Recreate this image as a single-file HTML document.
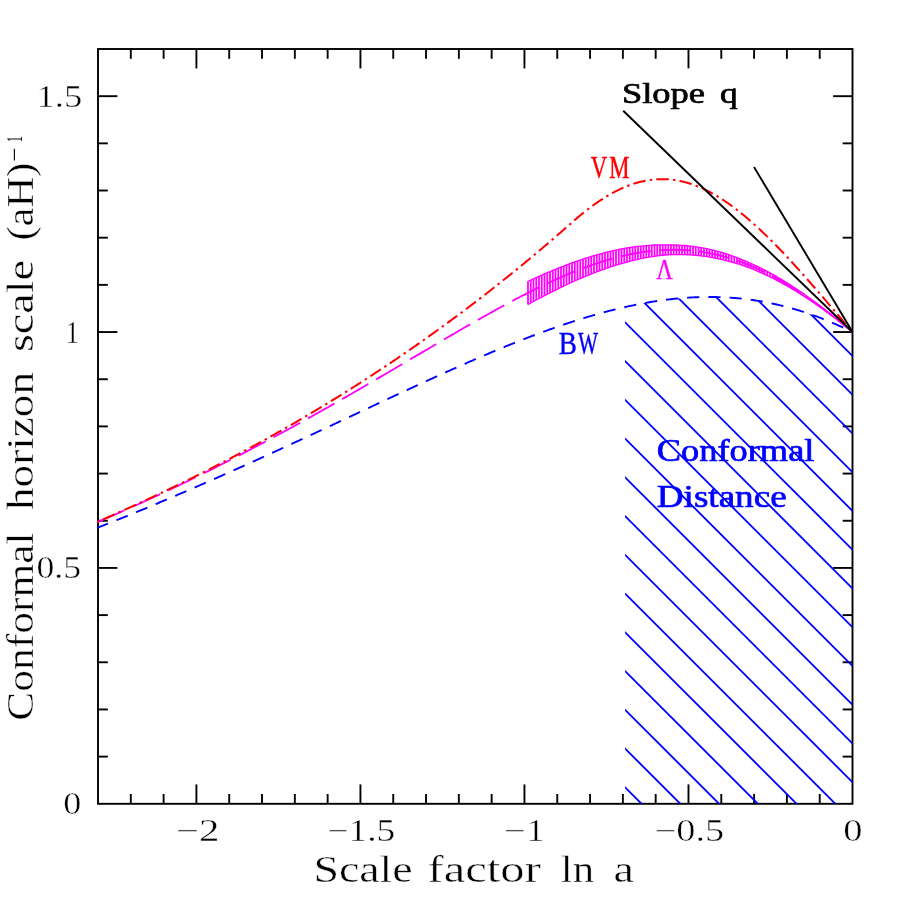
<!DOCTYPE html>
<html><head><meta charset="utf-8"><title>Conformal horizon scale</title>
<style>html,body{margin:0;padding:0;background:#fff;}svg{display:block;will-change:transform;}</style></head>
<body>
<svg width="900" height="900" viewBox="0 0 900 900">
<rect width="900" height="900" fill="#fff"/>
<defs><clipPath id="cp"><rect x="98.0" y="49.0" width="754.5" height="754.8"/></clipPath>
<clipPath id="hc"><polygon points="625.12,307.05 626.26,306.79 627.40,306.54 628.55,306.29 629.69,306.04 630.83,305.80 631.97,305.55 633.12,305.32 634.26,305.08 635.40,304.85 636.54,304.62 637.69,304.39 638.83,304.16 639.97,303.94 641.11,303.73 642.26,303.51 643.40,303.30 644.54,303.09 645.68,302.89 646.83,302.68 647.97,302.48 649.11,302.29 650.26,302.10 651.40,301.91 652.54,301.72 653.68,301.54 654.83,301.36 655.97,301.18 657.11,301.01 658.25,300.84 659.40,300.67 660.54,300.51 661.68,300.35 662.82,300.20 663.97,300.05 665.11,299.90 666.25,299.75 667.39,299.61 668.54,299.47 669.68,299.34 670.82,299.20 671.97,299.08 673.11,298.95 674.25,298.83 675.39,298.72 676.54,298.60 677.68,298.49 678.82,298.39 679.96,298.28 681.11,298.19 682.25,298.09 683.39,298.00 684.53,297.91 685.68,297.83 686.82,297.75 687.96,297.67 689.10,297.60 690.25,297.53 691.39,297.47 692.53,297.41 693.68,297.35 694.82,297.30 695.96,297.25 697.10,297.20 698.25,297.16 699.39,297.12 700.53,297.09 701.67,297.06 702.82,297.04 703.96,297.02 705.10,297.00 706.24,296.99 707.39,296.98 708.53,296.97 709.67,296.97 710.81,296.97 711.96,296.98 713.10,296.99 714.24,297.01 715.38,297.03 716.53,297.05 717.67,297.08 718.81,297.11 719.96,297.15 721.10,297.19 722.24,297.23 723.38,297.28 724.53,297.34 725.67,297.40 726.81,297.46 727.95,297.52 729.10,297.59 730.24,297.67 731.38,297.75 732.52,297.83 733.67,297.92 734.81,298.01 735.95,298.11 737.09,298.21 738.24,298.32 739.38,298.43 740.52,298.54 741.67,298.66 742.81,298.78 743.95,298.91 745.09,299.04 746.24,299.18 747.38,299.32 748.52,299.47 749.66,299.62 750.81,299.77 751.95,299.93 753.09,300.10 754.23,300.26 755.38,300.44 756.52,300.61 757.66,300.80 758.80,300.98 759.95,301.17 761.09,301.37 762.23,301.57 763.38,301.78 764.52,301.98 765.66,302.20 766.80,302.42 767.95,302.64 769.09,302.87 770.23,303.10 771.37,303.34 772.52,303.58 773.66,303.83 774.80,304.08 775.94,304.33 777.09,304.60 778.23,304.86 779.37,305.13 780.51,305.41 781.66,305.68 782.80,305.97 783.94,306.26 785.09,306.55 786.23,306.85 787.37,307.15 788.51,307.46 789.66,307.77 790.80,308.09 791.94,308.41 793.08,308.73 794.23,309.06 795.37,309.40 796.51,309.74 797.65,310.09 798.80,310.43 799.94,310.79 801.08,311.15 802.22,311.51 803.37,311.88 804.51,312.25 805.65,312.63 806.79,313.01 807.94,313.40 809.08,313.79 810.22,314.19 811.37,314.59 812.51,314.99 813.65,315.40 814.79,315.82 815.94,316.24 817.08,316.66 818.22,317.09 819.36,317.52 820.51,317.96 821.65,318.40 822.79,318.85 823.93,319.30 825.08,319.76 826.22,320.22 827.36,320.68 828.50,321.15 829.65,321.63 830.79,322.11 831.93,322.59 833.08,323.08 834.22,323.57 835.36,324.07 836.50,324.57 837.65,325.07 838.79,325.58 839.93,326.10 841.07,326.62 842.22,327.14 843.36,327.67 844.50,328.20 845.64,328.74 846.79,329.28 847.93,329.82 849.07,330.37 850.21,330.93 851.36,331.49 852.50,332.05 852.5,803.8 625.12,803.8"/></clipPath></defs>
<g stroke="#000" stroke-width="1.9" fill="none">
<rect x="98.0" y="49.0" width="754.5" height="754.8"/>
<line x1="130.80" y1="803.8" x2="130.80" y2="794.0"/>
<line x1="130.80" y1="49.0" x2="130.80" y2="58.8"/>
<line x1="163.61" y1="803.8" x2="163.61" y2="794.0"/>
<line x1="163.61" y1="49.0" x2="163.61" y2="58.8"/>
<line x1="196.41" y1="803.8" x2="196.41" y2="784.4"/>
<line x1="196.41" y1="49.0" x2="196.41" y2="68.4"/>
<line x1="229.22" y1="803.8" x2="229.22" y2="794.0"/>
<line x1="229.22" y1="49.0" x2="229.22" y2="58.8"/>
<line x1="262.02" y1="803.8" x2="262.02" y2="794.0"/>
<line x1="262.02" y1="49.0" x2="262.02" y2="58.8"/>
<line x1="294.83" y1="803.8" x2="294.83" y2="794.0"/>
<line x1="294.83" y1="49.0" x2="294.83" y2="58.8"/>
<line x1="327.63" y1="803.8" x2="327.63" y2="794.0"/>
<line x1="327.63" y1="49.0" x2="327.63" y2="58.8"/>
<line x1="360.43" y1="803.8" x2="360.43" y2="784.4"/>
<line x1="360.43" y1="49.0" x2="360.43" y2="68.4"/>
<line x1="393.24" y1="803.8" x2="393.24" y2="794.0"/>
<line x1="393.24" y1="49.0" x2="393.24" y2="58.8"/>
<line x1="426.04" y1="803.8" x2="426.04" y2="794.0"/>
<line x1="426.04" y1="49.0" x2="426.04" y2="58.8"/>
<line x1="458.85" y1="803.8" x2="458.85" y2="794.0"/>
<line x1="458.85" y1="49.0" x2="458.85" y2="58.8"/>
<line x1="491.65" y1="803.8" x2="491.65" y2="794.0"/>
<line x1="491.65" y1="49.0" x2="491.65" y2="58.8"/>
<line x1="524.46" y1="803.8" x2="524.46" y2="784.4"/>
<line x1="524.46" y1="49.0" x2="524.46" y2="68.4"/>
<line x1="557.26" y1="803.8" x2="557.26" y2="794.0"/>
<line x1="557.26" y1="49.0" x2="557.26" y2="58.8"/>
<line x1="590.07" y1="803.8" x2="590.07" y2="794.0"/>
<line x1="590.07" y1="49.0" x2="590.07" y2="58.8"/>
<line x1="622.87" y1="803.8" x2="622.87" y2="794.0"/>
<line x1="622.87" y1="49.0" x2="622.87" y2="58.8"/>
<line x1="655.67" y1="803.8" x2="655.67" y2="794.0"/>
<line x1="655.67" y1="49.0" x2="655.67" y2="58.8"/>
<line x1="688.48" y1="803.8" x2="688.48" y2="784.4"/>
<line x1="688.48" y1="49.0" x2="688.48" y2="68.4"/>
<line x1="721.28" y1="803.8" x2="721.28" y2="794.0"/>
<line x1="721.28" y1="49.0" x2="721.28" y2="58.8"/>
<line x1="754.09" y1="803.8" x2="754.09" y2="794.0"/>
<line x1="754.09" y1="49.0" x2="754.09" y2="58.8"/>
<line x1="786.89" y1="803.8" x2="786.89" y2="794.0"/>
<line x1="786.89" y1="49.0" x2="786.89" y2="58.8"/>
<line x1="819.70" y1="803.8" x2="819.70" y2="794.0"/>
<line x1="819.70" y1="49.0" x2="819.70" y2="58.8"/>
<line x1="98.0" y1="756.62" x2="107.8" y2="756.62"/>
<line x1="852.5" y1="756.62" x2="842.7" y2="756.62"/>
<line x1="98.0" y1="709.45" x2="107.8" y2="709.45"/>
<line x1="852.5" y1="709.45" x2="842.7" y2="709.45"/>
<line x1="98.0" y1="662.27" x2="107.8" y2="662.27"/>
<line x1="852.5" y1="662.27" x2="842.7" y2="662.27"/>
<line x1="98.0" y1="615.10" x2="107.8" y2="615.10"/>
<line x1="852.5" y1="615.10" x2="842.7" y2="615.10"/>
<line x1="98.0" y1="567.92" x2="117.4" y2="567.92"/>
<line x1="852.5" y1="567.92" x2="833.1" y2="567.92"/>
<line x1="98.0" y1="520.75" x2="107.8" y2="520.75"/>
<line x1="852.5" y1="520.75" x2="842.7" y2="520.75"/>
<line x1="98.0" y1="473.57" x2="107.8" y2="473.57"/>
<line x1="852.5" y1="473.57" x2="842.7" y2="473.57"/>
<line x1="98.0" y1="426.40" x2="107.8" y2="426.40"/>
<line x1="852.5" y1="426.40" x2="842.7" y2="426.40"/>
<line x1="98.0" y1="379.23" x2="107.8" y2="379.23"/>
<line x1="852.5" y1="379.23" x2="842.7" y2="379.23"/>
<line x1="98.0" y1="332.05" x2="117.4" y2="332.05"/>
<line x1="852.5" y1="332.05" x2="833.1" y2="332.05"/>
<line x1="98.0" y1="284.88" x2="107.8" y2="284.88"/>
<line x1="852.5" y1="284.88" x2="842.7" y2="284.88"/>
<line x1="98.0" y1="237.70" x2="107.8" y2="237.70"/>
<line x1="852.5" y1="237.70" x2="842.7" y2="237.70"/>
<line x1="98.0" y1="190.52" x2="107.8" y2="190.52"/>
<line x1="852.5" y1="190.52" x2="842.7" y2="190.52"/>
<line x1="98.0" y1="143.35" x2="107.8" y2="143.35"/>
<line x1="852.5" y1="143.35" x2="842.7" y2="143.35"/>
<line x1="98.0" y1="96.18" x2="117.4" y2="96.18"/>
<line x1="852.5" y1="96.18" x2="833.1" y2="96.18"/>
</g>
<g clip-path="url(#hc)" stroke="#0000ff" stroke-width="1.8" fill="none">
<line x1="620.12" y1="7.32" x2="857.50" y2="244.70"/>
<line x1="620.12" y1="46.07" x2="857.50" y2="283.45"/>
<line x1="620.12" y1="84.82" x2="857.50" y2="322.20"/>
<line x1="620.12" y1="123.57" x2="857.50" y2="360.95"/>
<line x1="620.12" y1="162.32" x2="857.50" y2="399.70"/>
<line x1="620.12" y1="201.07" x2="857.50" y2="438.45"/>
<line x1="620.12" y1="239.82" x2="857.50" y2="477.20"/>
<line x1="620.12" y1="278.57" x2="857.50" y2="515.95"/>
<line x1="620.12" y1="317.32" x2="857.50" y2="554.70"/>
<line x1="620.12" y1="356.07" x2="857.50" y2="593.45"/>
<line x1="620.12" y1="394.82" x2="857.50" y2="632.20"/>
<line x1="620.12" y1="433.57" x2="857.50" y2="670.95"/>
<line x1="620.12" y1="472.32" x2="857.50" y2="709.70"/>
<line x1="620.12" y1="511.07" x2="857.50" y2="748.45"/>
<line x1="620.12" y1="549.82" x2="857.50" y2="787.20"/>
<line x1="620.12" y1="588.57" x2="857.50" y2="825.95"/>
<line x1="620.12" y1="627.32" x2="857.50" y2="864.70"/>
<line x1="620.12" y1="666.07" x2="857.50" y2="903.45"/>
<line x1="620.12" y1="704.82" x2="857.50" y2="942.20"/>
<line x1="620.12" y1="743.57" x2="857.50" y2="980.95"/>
<line x1="620.12" y1="782.32" x2="857.50" y2="1019.70"/>
<line x1="620.12" y1="821.07" x2="857.50" y2="1058.45"/>
<line x1="620.12" y1="859.82" x2="857.50" y2="1097.20"/>
<line x1="620.12" y1="898.57" x2="857.50" y2="1135.95"/>
</g>
<path d="M97.15,527.88 L98.41,527.38 L99.67,526.88 L100.94,526.38 L102.20,525.89 L103.46,525.39 L104.72,524.89 L105.98,524.39 L107.24,523.88 L108.50,523.38 L109.76,522.88 L111.02,522.38 L112.28,521.87 L113.55,521.37 L114.81,520.86 L116.07,520.36 L117.33,519.85 L118.59,519.34 L119.85,518.83 L121.11,518.32 L122.37,517.82 L123.63,517.31 L124.89,516.79 L126.16,516.28 L127.42,515.77 L128.68,515.26 L129.94,514.74 L131.20,514.23 L132.46,513.71 L133.72,513.20 L134.98,512.68 L136.24,512.17 L137.50,511.65 L138.77,511.13 L140.03,510.61 L141.29,510.09 L142.55,509.57 L143.81,509.05 L145.07,508.53 L146.33,508.01 L147.59,507.48 L148.85,506.96 L150.11,506.44 L151.38,505.91 L152.64,505.39 L153.90,504.86 L155.16,504.33 L156.42,503.80 L157.68,503.28 L158.94,502.75 L160.20,502.22 L161.46,501.69 L162.72,501.16 L163.99,500.63 L165.25,500.09 L166.51,499.56 L167.77,499.03 L169.03,498.49 L170.29,497.96 L171.55,497.42 L172.81,496.89 L174.07,496.35 L175.33,495.82 L176.60,495.28 L177.86,494.74 L179.12,494.20 L180.38,493.66 L181.64,493.12 L182.90,492.58 L184.16,492.04 L185.42,491.50 L186.68,490.95 L187.95,490.41 L189.21,489.87 L190.47,489.32 L191.73,488.78 L192.99,488.23 L194.25,487.69 L195.51,487.14 L196.77,486.59 L198.03,486.04 L199.29,485.50 L200.56,484.95 L201.82,484.40 L203.08,483.85 L204.34,483.30 L205.60,482.74 L206.86,482.19 L208.12,481.64 L209.38,481.09 L210.64,480.53 L211.90,479.98 L213.17,479.42 L214.43,478.87 L215.69,478.31 L216.95,477.76 L218.21,477.20 L219.47,476.64 L220.73,476.08 L221.99,475.52 L223.25,474.96 L224.51,474.41 L225.78,473.84 L227.04,473.28 L228.30,472.72 L229.56,472.16 L230.82,471.60 L232.08,471.04 L233.34,470.47 L234.60,469.91 L235.86,469.34 L237.12,468.78 L238.39,468.21 L239.65,467.65 L240.91,467.08 L242.17,466.51 L243.43,465.95 L244.69,465.38 L245.95,464.81 L247.21,464.24 L248.47,463.67 L249.73,463.10 L251.00,462.53 L252.26,461.96 L253.52,461.39 L254.78,460.82 L256.04,460.25 L257.30,459.67 L258.56,459.10 L259.82,458.53 L261.08,457.95 L262.34,457.38 L263.61,456.81 L264.87,456.23 L266.13,455.66 L267.39,455.08 L268.65,454.50 L269.91,453.93 L271.17,453.35 L272.43,452.77 L273.69,452.19 L274.96,451.62 L276.22,451.04 L277.48,450.46 L278.74,449.88 L280.00,449.30 L281.26,448.72 L282.52,448.14 L283.78,447.56 L285.04,446.98 L286.30,446.39 L287.57,445.81 L288.83,445.23 L290.09,444.65 L291.35,444.06 L292.61,443.48 L293.87,442.90 L295.13,442.31 L296.39,441.73 L297.65,441.14 L298.91,440.56 L300.18,439.97 L301.44,439.39 L302.70,438.80 L303.96,438.22 L305.22,437.63 L306.48,437.04 L307.74,436.46 L309.00,435.87 L310.26,435.28 L311.52,434.70 L312.79,434.11 L314.05,433.52 L315.31,432.93 L316.57,432.34 L317.83,431.76 L319.09,431.17 L320.35,430.58 L321.61,429.99 L322.87,429.40 L324.13,428.81 L325.40,428.22 L326.66,427.63 L327.92,427.04 L329.18,426.45 L330.44,425.86 L331.70,425.27 L332.96,424.68 L334.22,424.09 L335.48,423.50 L336.74,422.91 L338.01,422.31 L339.27,421.72 L340.53,421.13 L341.79,420.54 L343.05,419.95 L344.31,419.36 L345.57,418.77 L346.83,418.17 L348.09,417.58 L349.35,416.99 L350.62,416.40 L351.88,415.81 L353.14,415.21 L354.40,414.62 L355.66,414.03 L356.92,413.44 L358.18,412.85 L359.44,412.26 L360.70,411.66 L361.97,411.07 L363.23,410.48 L364.49,409.89 L365.75,409.30 L367.01,408.71 L368.27,408.11 L369.53,407.52 L370.79,406.93 L372.05,406.34 L373.31,405.75 L374.58,405.16 L375.84,404.57 L377.10,403.98 L378.36,403.39 L379.62,402.80 L380.88,402.21 L382.14,401.62 L383.40,401.03 L384.66,400.44 L385.92,399.85 L387.19,399.26 L388.45,398.67 L389.71,398.08 L390.97,397.49 L392.23,396.90 L393.49,396.31 L394.75,395.73 L396.01,395.14 L397.27,394.55 L398.53,393.97 L399.80,393.38 L401.06,392.79 L402.32,392.21 L403.58,391.62 L404.84,391.04 L406.10,390.45 L407.36,389.87 L408.62,389.28 L409.88,388.70 L411.14,388.12 L412.41,387.53 L413.67,386.95 L414.93,386.37 L416.19,385.79 L417.45,385.21 L418.71,384.62 L419.97,384.04 L421.23,383.46 L422.49,382.89 L423.75,382.31 L425.02,381.73 L426.28,381.15 L427.54,380.57 L428.80,380.00 L430.06,379.42 L431.32,378.85 L432.58,378.27 L433.84,377.70 L435.10,377.12 L436.37,376.55 L437.63,375.98 L438.89,375.41 L440.15,374.84 L441.41,374.27 L442.67,373.70 L443.93,373.13 L445.19,372.56 L446.45,371.99 L447.71,371.43 L448.98,370.86 L450.24,370.30 L451.50,369.73 L452.76,369.17 L454.02,368.61 L455.28,368.05 L456.54,367.48 L457.80,366.92 L459.06,366.37 L460.32,365.81 L461.59,365.25 L462.85,364.69 L464.11,364.14 L465.37,363.58 L466.63,363.03 L467.89,362.48 L469.15,361.93 L470.41,361.38 L471.67,360.83 L472.93,360.28 L474.20,359.73 L475.46,359.18 L476.72,358.64 L477.98,358.09 L479.24,357.55 L480.50,357.01 L481.76,356.47 L483.02,355.93 L484.28,355.39 L485.54,354.85 L486.81,354.32 L488.07,353.78 L489.33,353.25 L490.59,352.72 L491.85,352.19 L493.11,351.66 L494.37,351.13 L495.63,350.60 L496.89,350.08 L498.15,349.55 L499.42,349.03 L500.68,348.51 L501.94,347.99 L503.20,347.47 L504.46,346.95 L505.72,346.43 L506.98,345.92 L508.24,345.41 L509.50,344.90 L510.76,344.39 L512.03,343.88 L513.29,343.37 L514.55,342.87 L515.81,342.36 L517.07,341.86 L518.33,341.36 L519.59,340.86 L520.85,340.36 L522.11,339.87 L523.38,339.38 L524.64,338.88 L525.90,338.39 L527.16,337.91 L528.42,337.42 L529.68,336.93 L530.94,336.45 L532.20,335.97 L533.46,335.49 L534.72,335.01 L535.99,334.54 L537.25,334.07 L538.51,333.59 L539.77,333.12 L541.03,332.66 L542.29,332.19 L543.55,331.73 L544.81,331.27 L546.07,330.81 L547.33,330.35 L548.60,329.89 L549.86,329.44 L551.12,328.99 L552.38,328.54 L553.64,328.10 L554.90,327.65 L556.16,327.21 L557.42,326.77 L558.68,326.33 L559.94,325.90 L561.21,325.46 L562.47,325.03 L563.73,324.60 L564.99,324.18 L566.25,323.75 L567.51,323.33 L568.77,322.91 L570.03,322.50 L571.29,322.08 L572.55,321.67 L573.82,321.26 L575.08,320.86 L576.34,320.45 L577.60,320.05 L578.86,319.66 L580.12,319.26 L581.38,318.87 L582.64,318.48 L583.90,318.09 L585.16,317.70 L586.43,317.32 L587.69,316.94 L588.95,316.57 L590.21,316.19 L591.47,315.82 L592.73,315.45 L593.99,315.09 L595.25,314.72 L596.51,314.37 L597.77,314.01 L599.04,313.66 L600.30,313.30 L601.56,312.96 L602.82,312.61 L604.08,312.27 L605.34,311.93 L606.60,311.60 L607.86,311.27 L609.12,310.94 L610.39,310.61 L611.65,310.29 L612.91,309.97 L614.17,309.65 L615.43,309.34 L616.69,309.03 L617.95,308.73 L619.21,308.42 L620.47,308.12 L621.73,307.83 L623.00,307.54 L624.26,307.25 L625.52,306.96 L626.78,306.68 L628.04,306.40 L629.30,306.13 L630.56,305.85 L631.82,305.59 L633.08,305.32 L634.34,305.06 L635.61,304.80 L636.87,304.55 L638.13,304.30 L639.39,304.06 L640.65,303.81 L641.91,303.58 L643.17,303.34 L644.43,303.11 L645.69,302.88 L646.95,302.66 L648.22,302.44 L649.48,302.23 L650.74,302.02 L652.00,301.81 L653.26,301.61 L654.52,301.41 L655.78,301.21 L657.04,301.02 L658.30,300.83 L659.56,300.65 L660.83,300.47 L662.09,300.30 L663.35,300.13 L664.61,299.96 L665.87,299.80 L667.13,299.64 L668.39,299.49 L669.65,299.34 L670.91,299.19 L672.17,299.05 L673.44,298.92 L674.70,298.79 L675.96,298.66 L677.22,298.54 L678.48,298.42 L679.74,298.30 L681.00,298.19 L682.26,298.09 L683.52,297.99 L684.78,297.89 L686.05,297.80 L687.31,297.72 L688.57,297.63 L689.83,297.56 L691.09,297.48 L692.35,297.42 L693.61,297.35 L694.87,297.29 L696.13,297.24 L697.40,297.19 L698.66,297.15 L699.92,297.11 L701.18,297.07 L702.44,297.05 L703.70,297.02 L704.96,297.00 L706.22,296.99 L707.48,296.98 L708.74,296.97 L710.01,296.97 L711.27,296.98 L712.53,296.99 L713.79,297.00 L715.05,297.02 L716.31,297.05 L717.57,297.08 L718.83,297.11 L720.09,297.15 L721.35,297.20 L722.62,297.25 L723.88,297.31 L725.14,297.37 L726.40,297.43 L727.66,297.51 L728.92,297.58 L730.18,297.67 L731.44,297.75 L732.70,297.85 L733.96,297.94 L735.23,298.05 L736.49,298.16 L737.75,298.27 L739.01,298.39 L740.27,298.52 L741.53,298.65 L742.79,298.78 L744.05,298.92 L745.31,299.07 L746.57,299.22 L747.84,299.38 L749.10,299.54 L750.36,299.71 L751.62,299.89 L752.88,300.06 L754.14,300.25 L755.40,300.44 L756.66,300.64 L757.92,300.84 L759.18,301.05 L760.45,301.26 L761.71,301.48 L762.97,301.70 L764.23,301.93 L765.49,302.17 L766.75,302.41 L768.01,302.65 L769.27,302.91 L770.53,303.16 L771.80,303.43 L773.06,303.70 L774.32,303.97 L775.58,304.25 L776.84,304.54 L778.10,304.83 L779.36,305.13 L780.62,305.43 L781.88,305.74 L783.14,306.05 L784.41,306.38 L785.67,306.70 L786.93,307.03 L788.19,307.37 L789.45,307.71 L790.71,308.06 L791.97,308.42 L793.23,308.78 L794.49,309.14 L795.75,309.51 L797.02,309.89 L798.28,310.27 L799.54,310.66 L800.80,311.06 L802.06,311.46 L803.32,311.86 L804.58,312.28 L805.84,312.69 L807.10,313.12 L808.36,313.54 L809.63,313.98 L810.89,314.42 L812.15,314.86 L813.41,315.32 L814.67,315.77 L815.93,316.23 L817.19,316.70 L818.45,317.18 L819.71,317.66 L820.97,318.14 L822.24,318.63 L823.50,319.13 L824.76,319.63 L826.02,320.14 L827.28,320.65 L828.54,321.17 L829.80,321.69 L831.06,322.22 L832.32,322.76 L833.58,323.30 L834.85,323.84 L836.11,324.39 L837.37,324.95 L838.63,325.51 L839.89,326.08 L841.15,326.65 L842.41,327.23 L843.67,327.82 L844.93,328.40 L846.19,329.00 L847.46,329.60 L848.72,330.20 L849.98,330.81 L851.24,331.43 L852.50,332.05" fill="none" stroke="#0000ff" stroke-width="1.9" stroke-dasharray="12.2 9.01" stroke-dashoffset="0.5"/>
<g stroke="#ff00ff" fill="none">
<line x1="528.00" y1="281.27" x2="528.00" y2="304.47" stroke-width="1.8"/>
<line x1="530.75" y1="280.01" x2="530.75" y2="302.96" stroke-width="1.8"/>
<line x1="533.50" y1="278.76" x2="533.50" y2="301.47" stroke-width="1.8"/>
<line x1="536.25" y1="277.52" x2="536.25" y2="299.99" stroke-width="1.8"/>
<line x1="539.00" y1="276.30" x2="539.00" y2="298.52" stroke-width="1.8"/>
<line x1="541.75" y1="275.10" x2="541.75" y2="297.07" stroke-width="1.8"/>
<line x1="544.50" y1="273.90" x2="544.50" y2="295.64" stroke-width="1.8"/>
<line x1="547.25" y1="272.73" x2="547.25" y2="294.22" stroke-width="1.8"/>
<line x1="550.00" y1="271.57" x2="550.00" y2="292.81" stroke-width="1.8"/>
<line x1="552.75" y1="270.43" x2="552.75" y2="291.43" stroke-width="1.8"/>
<line x1="555.50" y1="269.30" x2="555.50" y2="290.06" stroke-width="1.8"/>
<line x1="558.25" y1="268.19" x2="558.25" y2="288.70" stroke-width="1.8"/>
<line x1="561.00" y1="267.10" x2="561.00" y2="287.37" stroke-width="1.8"/>
<line x1="563.75" y1="266.03" x2="563.75" y2="286.05" stroke-width="1.8"/>
<line x1="566.50" y1="264.98" x2="566.50" y2="284.76" stroke-width="1.8"/>
<line x1="569.25" y1="263.95" x2="569.25" y2="283.48" stroke-width="1.8"/>
<line x1="572.00" y1="262.94" x2="572.00" y2="282.23" stroke-width="1.8"/>
<line x1="574.75" y1="261.95" x2="574.75" y2="280.99" stroke-width="1.8"/>
<line x1="577.50" y1="260.98" x2="577.50" y2="279.78" stroke-width="1.8"/>
<line x1="580.25" y1="260.03" x2="580.25" y2="278.58" stroke-width="1.8"/>
<line x1="583.00" y1="259.10" x2="583.00" y2="277.41" stroke-width="1.8"/>
<line x1="585.75" y1="258.20" x2="585.75" y2="276.27" stroke-width="1.8"/>
<line x1="588.50" y1="257.32" x2="588.50" y2="275.14" stroke-width="1.8"/>
<line x1="591.25" y1="256.47" x2="591.25" y2="274.04" stroke-width="1.8"/>
<line x1="594.00" y1="255.64" x2="594.00" y2="272.97" stroke-width="1.8"/>
<line x1="596.75" y1="254.83" x2="596.75" y2="271.92" stroke-width="1.8"/>
<line x1="599.50" y1="254.05" x2="599.50" y2="270.89" stroke-width="1.8"/>
<line x1="602.25" y1="253.31" x2="602.25" y2="269.88" stroke-width="1.8"/>
<line x1="605.00" y1="252.60" x2="605.00" y2="268.89" stroke-width="1.8"/>
<line x1="607.75" y1="251.92" x2="607.75" y2="267.93" stroke-width="1.8"/>
<line x1="610.50" y1="251.26" x2="610.50" y2="267.00" stroke-width="1.8"/>
<line x1="613.25" y1="250.64" x2="613.25" y2="266.09" stroke-width="1.8"/>
<line x1="616.00" y1="250.04" x2="616.00" y2="265.22" stroke-width="1.8"/>
<line x1="618.75" y1="249.47" x2="618.75" y2="264.37" stroke-width="1.8"/>
<line x1="621.50" y1="248.94" x2="621.50" y2="263.55" stroke-width="1.8"/>
<line x1="624.25" y1="248.43" x2="624.25" y2="262.77" stroke-width="1.8"/>
<line x1="627.00" y1="247.95" x2="627.00" y2="262.01" stroke-width="1.8"/>
<line x1="629.75" y1="247.51" x2="629.75" y2="261.29" stroke-width="1.8"/>
<line x1="632.50" y1="247.10" x2="632.50" y2="260.60" stroke-width="1.8"/>
<line x1="635.25" y1="246.72" x2="635.25" y2="259.94" stroke-width="1.8"/>
<line x1="638.00" y1="246.37" x2="638.00" y2="259.31" stroke-width="1.8"/>
<line x1="640.75" y1="246.06" x2="640.75" y2="258.72" stroke-width="1.8"/>
<line x1="643.50" y1="245.78" x2="643.50" y2="258.16" stroke-width="1.8"/>
<line x1="646.25" y1="245.54" x2="646.25" y2="257.64" stroke-width="1.8"/>
<line x1="649.00" y1="245.33" x2="649.00" y2="257.15" stroke-width="1.8"/>
<line x1="651.75" y1="245.15" x2="651.75" y2="256.70" stroke-width="1.8"/>
<line x1="654.50" y1="245.01" x2="654.50" y2="256.28" stroke-width="1.8"/>
<line x1="657.25" y1="244.91" x2="657.25" y2="255.90" stroke-width="1.8"/>
<line x1="660.00" y1="244.85" x2="660.00" y2="255.56" stroke-width="1.8"/>
<line x1="662.75" y1="244.82" x2="662.75" y2="255.25" stroke-width="1.8"/>
<line x1="665.50" y1="244.82" x2="665.50" y2="254.99" stroke-width="1.8"/>
<line x1="668.25" y1="244.80" x2="668.25" y2="254.83" stroke-width="1.8"/>
<line x1="671.00" y1="244.82" x2="671.00" y2="254.70" stroke-width="1.8"/>
<line x1="673.75" y1="244.88" x2="673.75" y2="254.61" stroke-width="1.8"/>
<line x1="676.50" y1="244.98" x2="676.50" y2="254.56" stroke-width="1.8"/>
<line x1="679.25" y1="245.11" x2="679.25" y2="254.55" stroke-width="1.8"/>
<line x1="682.00" y1="245.29" x2="682.00" y2="254.58" stroke-width="1.8"/>
<line x1="684.75" y1="245.50" x2="684.75" y2="254.65" stroke-width="1.8"/>
<line x1="687.50" y1="245.76" x2="687.50" y2="254.76" stroke-width="1.8"/>
<line x1="690.25" y1="246.06" x2="690.25" y2="254.91" stroke-width="1.8"/>
<line x1="693.00" y1="246.39" x2="693.00" y2="255.10" stroke-width="1.8"/>
<line x1="695.75" y1="246.77" x2="695.75" y2="255.33" stroke-width="1.8"/>
<line x1="698.50" y1="247.19" x2="698.50" y2="255.61" stroke-width="1.8"/>
<line x1="701.25" y1="247.65" x2="701.25" y2="255.92" stroke-width="1.8"/>
<line x1="704.00" y1="248.15" x2="704.00" y2="256.27" stroke-width="1.8"/>
<line x1="706.75" y1="248.70" x2="706.75" y2="256.67" stroke-width="1.8"/>
<line x1="709.50" y1="249.28" x2="709.50" y2="257.11" stroke-width="1.8"/>
<line x1="712.25" y1="249.91" x2="712.25" y2="257.59" stroke-width="1.8"/>
<line x1="715.00" y1="250.57" x2="715.00" y2="258.11" stroke-width="1.8"/>
<line x1="717.75" y1="251.28" x2="717.75" y2="258.67" stroke-width="1.8"/>
<line x1="720.50" y1="252.04" x2="720.50" y2="259.28" stroke-width="1.8"/>
<line x1="723.25" y1="252.83" x2="723.25" y2="259.92" stroke-width="1.8"/>
<line x1="726.00" y1="253.68" x2="726.00" y2="260.59" stroke-width="1.8"/>
<line x1="728.75" y1="254.60" x2="728.75" y2="261.28" stroke-width="1.8"/>
<line x1="731.50" y1="255.57" x2="731.50" y2="262.00" stroke-width="1.8"/>
<line x1="734.25" y1="256.57" x2="734.25" y2="262.77" stroke-width="1.8"/>
<line x1="737.00" y1="257.62" x2="737.00" y2="263.58" stroke-width="1.8"/>
<line x1="739.75" y1="258.70" x2="739.75" y2="264.43" stroke-width="1.8"/>
<line x1="742.50" y1="259.79" x2="742.50" y2="265.36" stroke-width="1.8"/>
<line x1="745.25" y1="260.91" x2="745.25" y2="266.33" stroke-width="1.8"/>
<line x1="748.00" y1="262.08" x2="748.00" y2="267.35" stroke-width="1.8"/>
<line x1="750.75" y1="263.28" x2="750.75" y2="268.41" stroke-width="1.8"/>
<line x1="753.50" y1="264.53" x2="753.50" y2="269.51" stroke-width="1.8"/>
<line x1="756.25" y1="265.81" x2="756.25" y2="270.64" stroke-width="1.8"/>
<line x1="759.00" y1="267.13" x2="759.00" y2="271.82" stroke-width="1.8"/>
<line x1="761.75" y1="268.50" x2="761.75" y2="273.04" stroke-width="1.8"/>
<line x1="764.50" y1="269.90" x2="764.50" y2="274.29" stroke-width="1.8"/>
<line x1="767.25" y1="271.34" x2="767.25" y2="275.58" stroke-width="1.8"/>
<line x1="770.00" y1="272.82" x2="770.00" y2="276.92" stroke-width="1.8"/>
<line x1="772.75" y1="274.34" x2="772.75" y2="278.28" stroke-width="1.8"/>
<line x1="775.50" y1="275.89" x2="775.50" y2="279.68" stroke-width="1.8"/>
<line x1="778.25" y1="277.49" x2="778.25" y2="281.12" stroke-width="1.8"/>
<line x1="781.00" y1="279.12" x2="781.00" y2="282.59" stroke-width="1.8"/>
<line x1="783.75" y1="280.78" x2="783.75" y2="284.10" stroke-width="1.8"/>
<line x1="786.50" y1="282.49" x2="786.50" y2="285.65" stroke-width="1.8"/>
<line x1="789.25" y1="284.22" x2="789.25" y2="287.23" stroke-width="1.8"/>
<line x1="792.00" y1="285.99" x2="792.00" y2="288.84" stroke-width="1.8"/>
<line x1="794.75" y1="287.80" x2="794.75" y2="290.49" stroke-width="1.8"/>
<line x1="797.50" y1="289.63" x2="797.50" y2="292.17" stroke-width="1.8"/>
<line x1="800.25" y1="291.50" x2="800.25" y2="293.89" stroke-width="1.8"/>
<line x1="803.00" y1="293.39" x2="803.00" y2="295.64" stroke-width="1.8"/>
<line x1="805.75" y1="295.32" x2="805.75" y2="297.43" stroke-width="1.8"/>
<line x1="808.50" y1="297.27" x2="808.50" y2="299.25" stroke-width="1.8"/>
<line x1="811.25" y1="299.26" x2="811.25" y2="301.09" stroke-width="1.8"/>
<line x1="814.00" y1="301.27" x2="814.00" y2="302.97" stroke-width="1.8"/>
<line x1="816.75" y1="303.31" x2="816.75" y2="304.87" stroke-width="1.8"/>
<line x1="819.50" y1="305.38" x2="819.50" y2="306.81" stroke-width="1.8"/>
<line x1="822.25" y1="307.46" x2="822.25" y2="308.78" stroke-width="1.8"/>
<line x1="825.00" y1="309.57" x2="825.00" y2="310.79" stroke-width="1.8"/>
<line x1="827.75" y1="311.70" x2="827.75" y2="312.82" stroke-width="1.8"/>
<line x1="830.50" y1="313.86" x2="830.50" y2="314.87" stroke-width="1.8"/>
<line x1="833.25" y1="316.04" x2="833.25" y2="316.95" stroke-width="1.8"/>
<line x1="836.00" y1="318.25" x2="836.00" y2="319.06" stroke-width="1.8"/>
<line x1="838.75" y1="320.48" x2="838.75" y2="321.19" stroke-width="1.8"/>
<line x1="841.50" y1="322.73" x2="841.50" y2="323.34" stroke-width="1.8"/>
<line x1="844.25" y1="325.00" x2="844.25" y2="325.51" stroke-width="1.8"/>
<line x1="847.00" y1="327.30" x2="847.00" y2="327.70" stroke-width="1.8"/>
<line x1="849.75" y1="329.62" x2="849.75" y2="329.92" stroke-width="1.8"/>
<polyline points="528.00,281.27 530.75,280.01 533.50,278.76 536.25,277.52 539.00,276.30 541.75,275.10 544.50,273.90 547.25,272.73 550.00,271.57 552.75,270.43 555.50,269.30 558.25,268.19 561.00,267.10 563.75,266.03 566.50,264.98 569.25,263.95 572.00,262.94 574.75,261.95 577.50,260.98 580.25,260.03 583.00,259.10 585.75,258.20 588.50,257.32 591.25,256.47 594.00,255.64 596.75,254.83 599.50,254.05 602.25,253.31 605.00,252.60 607.75,251.92 610.50,251.26 613.25,250.64 616.00,250.04 618.75,249.47 621.50,248.94 624.25,248.43 627.00,247.95 629.75,247.51 632.50,247.10 635.25,246.72 638.00,246.37 640.75,246.06 643.50,245.78 646.25,245.54 649.00,245.33 651.75,245.15 654.50,245.01 657.25,244.91 660.00,244.85 662.75,244.82 665.50,244.82 668.25,244.80 671.00,244.82 673.75,244.88 676.50,244.98 679.25,245.11 682.00,245.29 684.75,245.50 687.50,245.76 690.25,246.06 693.00,246.39 695.75,246.77 698.50,247.19 701.25,247.65 704.00,248.15 706.75,248.70 709.50,249.28 712.25,249.91 715.00,250.57 717.75,251.28 720.50,252.04 723.25,252.83 726.00,253.68 728.75,254.60 731.50,255.57 734.25,256.57 737.00,257.62 739.75,258.70 742.50,259.79 745.25,260.91 748.00,262.08 750.75,263.28 753.50,264.53 756.25,265.81 759.00,267.13 761.75,268.50 764.50,269.90 767.25,271.34 770.00,272.82 772.75,274.34 775.50,275.89 778.25,277.49 781.00,279.12 783.75,280.78 786.50,282.49 789.25,284.22 792.00,285.99 794.75,287.80 797.50,289.63 800.25,291.50 803.00,293.39 805.75,295.32 808.50,297.27 811.25,299.26 814.00,301.27 816.75,303.31 819.50,305.38 822.25,307.46 825.00,309.57 827.75,311.70 830.50,313.86 833.25,316.04 836.00,318.25 838.75,320.48 841.50,322.73 844.25,325.00 847.00,327.30 849.75,329.62" stroke-width="1.3"/>
<polyline points="528.00,304.47 530.75,302.96 533.50,301.47 536.25,299.99 539.00,298.52 541.75,297.07 544.50,295.64 547.25,294.22 550.00,292.81 552.75,291.43 555.50,290.06 558.25,288.70 561.00,287.37 563.75,286.05 566.50,284.76 569.25,283.48 572.00,282.23 574.75,280.99 577.50,279.78 580.25,278.58 583.00,277.41 585.75,276.27 588.50,275.14 591.25,274.04 594.00,272.97 596.75,271.92 599.50,270.89 602.25,269.88 605.00,268.89 607.75,267.93 610.50,267.00 613.25,266.09 616.00,265.22 618.75,264.37 621.50,263.55 624.25,262.77 627.00,262.01 629.75,261.29 632.50,260.60 635.25,259.94 638.00,259.31 640.75,258.72 643.50,258.16 646.25,257.64 649.00,257.15 651.75,256.70 654.50,256.28 657.25,255.90 660.00,255.56 662.75,255.25 665.50,254.99 668.25,254.83 671.00,254.70 673.75,254.61 676.50,254.56 679.25,254.55 682.00,254.58 684.75,254.65 687.50,254.76 690.25,254.91 693.00,255.10 695.75,255.33 698.50,255.61 701.25,255.92 704.00,256.27 706.75,256.67 709.50,257.11 712.25,257.59 715.00,258.11 717.75,258.67 720.50,259.28 723.25,259.92 726.00,260.59 728.75,261.28 731.50,262.00 734.25,262.77 737.00,263.58 739.75,264.43 742.50,265.36 745.25,266.33 748.00,267.35 750.75,268.41 753.50,269.51 756.25,270.64 759.00,271.82 761.75,273.04 764.50,274.29 767.25,275.58 770.00,276.92 772.75,278.28 775.50,279.68 778.25,281.12 781.00,282.59 783.75,284.10 786.50,285.65 789.25,287.23 792.00,288.84 794.75,290.49 797.50,292.17 800.25,293.89 803.00,295.64 805.75,297.43 808.50,299.25 811.25,301.09 814.00,302.97 816.75,304.87 819.50,306.81 822.25,308.78 825.00,310.79 827.75,312.82 830.50,314.87 833.25,316.95 836.00,319.06 838.75,321.19 841.50,323.34 844.25,325.51 847.00,327.70 849.75,329.92" stroke-width="1.3"/>
</g>
<path d="M97.15,522.24 L98.41,521.70 L99.67,521.16 L100.94,520.62 L102.20,520.08 L103.46,519.54 L104.72,519.00 L105.98,518.45 L107.24,517.91 L108.50,517.36 L109.76,516.82 L111.02,516.27 L112.28,515.72 L113.55,515.17 L114.81,514.62 L116.07,514.07 L117.33,513.52 L118.59,512.97 L119.85,512.41 L121.11,511.86 L122.37,511.30 L123.63,510.74 L124.89,510.18 L126.16,509.63 L127.42,509.07 L128.68,508.50 L129.94,507.94 L131.20,507.38 L132.46,506.81 L133.72,506.25 L134.98,505.68 L136.24,505.12 L137.50,504.55 L138.77,503.98 L140.03,503.41 L141.29,502.84 L142.55,502.26 L143.81,501.69 L145.07,501.12 L146.33,500.54 L147.59,499.96 L148.85,499.39 L150.11,498.81 L151.38,498.23 L152.64,497.65 L153.90,497.07 L155.16,496.49 L156.42,495.90 L157.68,495.32 L158.94,494.73 L160.20,494.15 L161.46,493.56 L162.72,492.97 L163.99,492.38 L165.25,491.79 L166.51,491.20 L167.77,490.60 L169.03,490.01 L170.29,489.42 L171.55,488.82 L172.81,488.22 L174.07,487.63 L175.33,487.03 L176.60,486.43 L177.86,485.83 L179.12,485.23 L180.38,484.62 L181.64,484.02 L182.90,483.41 L184.16,482.81 L185.42,482.20 L186.68,481.59 L187.95,480.98 L189.21,480.37 L190.47,479.76 L191.73,479.15 L192.99,478.54 L194.25,477.92 L195.51,477.31 L196.77,476.69 L198.03,476.07 L199.29,475.46 L200.56,474.84 L201.82,474.22 L203.08,473.59 L204.34,472.97 L205.60,472.35 L206.86,471.72 L208.12,471.10 L209.38,470.47 L210.64,469.85 L211.90,469.22 L213.17,468.59 L214.43,467.96 L215.69,467.33 L216.95,466.69 L218.21,466.06 L219.47,465.42 L220.73,464.79 L221.99,464.15 L223.25,463.51 L224.51,462.88 L225.78,462.24 L227.04,461.60 L228.30,460.95 L229.56,460.31 L230.82,459.67 L232.08,459.02 L233.34,458.38 L234.60,457.73 L235.86,457.08 L237.12,456.43 L238.39,455.78 L239.65,455.13 L240.91,454.48 L242.17,453.83 L243.43,453.17 L244.69,452.52 L245.95,451.86 L247.21,451.21 L248.47,450.55 L249.73,449.89 L251.00,449.23 L252.26,448.57 L253.52,447.91 L254.78,447.25 L256.04,446.58 L257.30,445.92 L258.56,445.25 L259.82,444.58 L261.08,443.92 L262.34,443.25 L263.61,442.58 L264.87,441.91 L266.13,441.24 L267.39,440.56 L268.65,439.89 L269.91,439.22 L271.17,438.54 L272.43,437.87 L273.69,437.19 L274.96,436.51 L276.22,435.83 L277.48,435.15 L278.74,434.47 L280.00,433.79 L281.26,433.11 L282.52,432.42 L283.78,431.74 L285.04,431.05 L286.30,430.36 L287.57,429.68 L288.83,428.99 L290.09,428.30 L291.35,427.61 L292.61,426.92 L293.87,426.23 L295.13,425.53 L296.39,424.84 L297.65,424.15 L298.91,423.45 L300.18,422.75 L301.44,422.06 L302.70,421.36 L303.96,420.66 L305.22,419.96 L306.48,419.26 L307.74,418.56 L309.00,417.86 L310.26,417.15 L311.52,416.45 L312.79,415.74 L314.05,415.04 L315.31,414.33 L316.57,413.62 L317.83,412.92 L319.09,412.21 L320.35,411.50 L321.61,410.79 L322.87,410.08 L324.13,409.36 L325.40,408.65 L326.66,407.94 L327.92,407.22 L329.18,406.51 L330.44,405.79 L331.70,405.07 L332.96,404.36 L334.22,403.64 L335.48,402.92 L336.74,402.20 L338.01,401.48 L339.27,400.76 L340.53,400.04 L341.79,399.32 L343.05,398.59 L344.31,397.87 L345.57,397.15 L346.83,396.42 L348.09,395.70 L349.35,394.97 L350.62,394.24 L351.88,393.52 L353.14,392.79 L354.40,392.06 L355.66,391.33 L356.92,390.60 L358.18,389.87 L359.44,389.14 L360.70,388.41 L361.97,387.67 L363.23,386.94 L364.49,386.21 L365.75,385.48 L367.01,384.74 L368.27,384.01 L369.53,383.27 L370.79,382.54 L372.05,381.80 L373.31,381.06 L374.58,380.33 L375.84,379.59 L377.10,378.85 L378.36,378.11 L379.62,377.38 L380.88,376.64 L382.14,375.90 L383.40,375.16 L384.66,374.42 L385.92,373.68 L387.19,372.94 L388.45,372.20 L389.71,371.46 L390.97,370.71 L392.23,369.97 L393.49,369.23 L394.75,368.49 L396.01,367.75 L397.27,367.00 L398.53,366.26 L399.80,365.52 L401.06,364.78 L402.32,364.03 L403.58,363.29 L404.84,362.55 L406.10,361.80 L407.36,361.06 L408.62,360.31 L409.88,359.57 L411.14,358.83 L412.41,358.08 L413.67,357.34 L414.93,356.60 L416.19,355.85 L417.45,355.11 L418.71,354.36 L419.97,353.62 L421.23,352.88 L422.49,352.13 L423.75,351.39 L425.02,350.65 L426.28,349.91 L427.54,349.16 L428.80,348.42 L430.06,347.68 L431.32,346.94 L432.58,346.20 L433.84,345.45 L435.10,344.71 L436.37,343.97 L437.63,343.23 L438.89,342.49 L440.15,341.75 L441.41,341.01 L442.67,340.28 L443.93,339.54 L445.19,338.80 L446.45,338.06 L447.71,337.33 L448.98,336.59 L450.24,335.86 L451.50,335.12 L452.76,334.39 L454.02,333.66 L455.28,332.92 L456.54,332.19 L457.80,331.46 L459.06,330.73 L460.32,330.00 L461.59,329.27 L462.85,328.54 L464.11,327.82 L465.37,327.09 L466.63,326.37 L467.89,325.64 L469.15,324.92 L470.41,324.20 L471.67,323.48 L472.93,322.76 L474.20,322.04 L475.46,321.32 L476.72,320.60 L477.98,319.89 L479.24,319.17 L480.50,318.46 L481.76,317.75 L483.02,317.04 L484.28,316.33 L485.54,315.62 L486.81,314.92 L488.07,314.21 L489.33,313.51 L490.59,312.81 L491.85,312.11 L493.11,311.41 L494.37,310.71 L495.63,310.02 L496.89,309.33 L498.15,308.63 L499.42,307.95 L500.68,307.26 L501.94,306.57 L503.20,305.89 L504.46,305.20 L505.72,304.52 L506.98,303.85 L508.24,303.17 L509.50,302.50 L510.76,301.82 L512.03,301.15 L513.29,300.49 L514.55,299.82 L515.81,299.16 L517.07,298.50 L518.33,297.84 L519.59,297.18 L520.85,296.53 L522.11,295.88 L523.38,295.23 L524.64,294.58 L525.90,293.94 L527.16,293.30 L528.42,292.66 L529.68,292.02 L530.94,291.39 L532.20,290.76 L533.46,290.13 L534.72,289.51 L535.99,288.89 L537.25,288.27 L538.51,287.65 L539.77,287.04 L541.03,286.43 L542.29,285.82 L543.55,285.22 L544.81,284.62 L546.07,284.03 L547.33,283.43 L548.60,282.84 L549.86,282.26 L551.12,281.68 L552.38,281.10 L553.64,280.52 L554.90,279.95 L556.16,279.38 L557.42,278.82 L558.68,278.26 L559.94,277.70 L561.21,277.15 L562.47,276.60 L563.73,276.05 L564.99,275.51 L566.25,274.98 L567.51,274.44 L568.77,273.91 L570.03,273.39 L571.29,272.87 L572.55,272.35 L573.82,271.84 L575.08,271.34 L576.34,270.83 L577.60,270.34 L578.86,269.84 L580.12,269.36 L581.38,268.87 L582.64,268.39 L583.90,267.92 L585.16,267.45 L586.43,266.98 L587.69,266.53 L588.95,266.07 L590.21,265.62 L591.47,265.18 L592.73,264.74 L593.99,264.30 L595.25,263.88 L596.51,263.45 L597.77,263.03 L599.04,262.62 L600.30,262.22 L601.56,261.81 L602.82,261.42 L604.08,261.03 L605.34,260.64 L606.60,260.27 L607.86,259.89 L609.12,259.53 L610.39,259.16 L611.65,258.81 L612.91,258.46 L614.17,258.12 L615.43,257.78 L616.69,257.45 L617.95,257.13 L619.21,256.81 L620.47,256.50 L621.73,256.19 L623.00,255.89 L624.26,255.60 L625.52,255.31 L626.78,255.03 L628.04,254.76 L629.30,254.49 L630.56,254.23 L631.82,253.98 L633.08,253.74 L634.34,253.50 L635.61,253.26 L636.87,253.04 L638.13,252.82 L639.39,252.61 L640.65,252.41 L641.91,252.21 L643.17,252.02 L644.43,251.84 L645.69,251.66 L646.95,251.50 L648.22,251.33 L649.48,251.18 L650.74,251.04 L652.00,250.90 L653.26,250.77 L654.52,250.65 L655.78,250.53 L657.04,250.42 L658.30,250.32 L659.56,250.23 L660.83,250.15 L662.09,250.07 L663.35,250.00 L664.61,249.94 L665.87,249.89 L667.13,249.85 L668.39,249.81 L669.65,249.78 L670.91,249.76 L672.17,249.75 L673.44,249.74 L674.70,249.75 L675.96,249.76 L677.22,249.78 L678.48,249.81 L679.74,249.85 L681.00,249.89 L682.26,249.95 L683.52,250.01 L684.78,250.08 L686.05,250.16 L687.31,250.25 L688.57,250.34 L689.83,250.45 L691.09,250.56 L692.35,250.68 L693.61,250.81 L694.87,250.95 L696.13,251.10 L697.40,251.25 L698.66,251.42 L699.92,251.59 L701.18,251.77 L702.44,251.97 L703.70,252.17 L704.96,252.37 L706.22,252.59 L707.48,252.82 L708.74,253.05 L710.01,253.29 L711.27,253.54 L712.53,253.81 L713.79,254.07 L715.05,254.35 L716.31,254.64 L717.57,254.94 L718.83,255.24 L720.09,255.55 L721.35,255.87 L722.62,256.21 L723.88,256.54 L725.14,256.89 L726.40,257.25 L727.66,257.62 L728.92,257.99 L730.18,258.37 L731.44,258.77 L732.70,259.17 L733.96,259.58 L735.23,259.99 L736.49,260.42 L737.75,260.86 L739.01,261.30 L740.27,261.75 L741.53,262.21 L742.79,262.68 L744.05,263.16 L745.31,263.65 L746.57,264.14 L747.84,264.65 L749.10,265.16 L750.36,265.68 L751.62,266.21 L752.88,266.75 L754.14,267.30 L755.40,267.85 L756.66,268.41 L757.92,268.98 L759.18,269.56 L760.45,270.15 L761.71,270.75 L762.97,271.35 L764.23,271.96 L765.49,272.58 L766.75,273.21 L768.01,273.85 L769.27,274.49 L770.53,275.14 L771.80,275.80 L773.06,276.47 L774.32,277.15 L775.58,277.83 L776.84,278.52 L778.10,279.22 L779.36,279.93 L780.62,280.64 L781.88,281.36 L783.14,282.09 L784.41,282.83 L785.67,283.57 L786.93,284.32 L788.19,285.08 L789.45,285.85 L790.71,286.62 L791.97,287.40 L793.23,288.19 L794.49,288.98 L795.75,289.78 L797.02,290.59 L798.28,291.41 L799.54,292.23 L800.80,293.06 L802.06,293.89 L803.32,294.73 L804.58,295.58 L805.84,296.44 L807.10,297.30 L808.36,298.16 L809.63,299.04 L810.89,299.92 L812.15,300.81 L813.41,301.70 L814.67,302.60 L815.93,303.50 L817.19,304.41 L818.45,305.33 L819.71,306.25 L820.97,307.18 L822.24,308.11 L823.50,309.05 L824.76,310.00 L826.02,310.95 L827.28,311.90 L828.54,312.86 L829.80,313.83 L831.06,314.80 L832.32,315.78 L833.58,316.76 L834.85,317.75 L836.11,318.74 L837.37,319.73 L838.63,320.74 L839.89,321.74 L841.15,322.75 L842.41,323.77 L843.67,324.79 L844.93,325.81 L846.19,326.84 L847.46,327.88 L848.72,328.91 L849.98,329.95 L851.24,331.00 L852.50,332.05" fill="none" stroke="#ff00ff" stroke-width="1.8" stroke-dasharray="30.3 8.98" stroke-dashoffset="0.6"/>
<path d="M97.15,521.88 L98.41,521.33 L99.67,520.79 L100.94,520.25 L102.20,519.70 L103.46,519.15 L104.72,518.61 L105.98,518.06 L107.24,517.51 L108.50,516.96 L109.76,516.40 L111.02,515.85 L112.28,515.30 L113.55,514.74 L114.81,514.19 L116.07,513.63 L117.33,513.07 L118.59,512.51 L119.85,511.95 L121.11,511.39 L122.37,510.83 L123.63,510.26 L124.89,509.70 L126.16,509.13 L127.42,508.57 L128.68,508.00 L129.94,507.43 L131.20,506.86 L132.46,506.29 L133.72,505.72 L134.98,505.14 L136.24,504.57 L137.50,503.99 L138.77,503.41 L140.03,502.84 L141.29,502.26 L142.55,501.68 L143.81,501.10 L145.07,500.51 L146.33,499.93 L147.59,499.35 L148.85,498.76 L150.11,498.17 L151.38,497.59 L152.64,497.00 L153.90,496.41 L155.16,495.81 L156.42,495.22 L157.68,494.63 L158.94,494.03 L160.20,493.44 L161.46,492.84 L162.72,492.24 L163.99,491.64 L165.25,491.04 L166.51,490.44 L167.77,489.84 L169.03,489.23 L170.29,488.63 L171.55,488.02 L172.81,487.41 L174.07,486.81 L175.33,486.20 L176.60,485.59 L177.86,484.97 L179.12,484.36 L180.38,483.74 L181.64,483.13 L182.90,482.51 L184.16,481.89 L185.42,481.27 L186.68,480.65 L187.95,480.03 L189.21,479.41 L190.47,478.79 L191.73,478.16 L192.99,477.53 L194.25,476.91 L195.51,476.28 L196.77,475.65 L198.03,475.02 L199.29,474.38 L200.56,473.75 L201.82,473.11 L203.08,472.48 L204.34,471.84 L205.60,471.20 L206.86,470.56 L208.12,469.92 L209.38,469.28 L210.64,468.64 L211.90,467.99 L213.17,467.34 L214.43,466.70 L215.69,466.05 L216.95,465.40 L218.21,464.75 L219.47,464.10 L220.73,463.44 L221.99,462.79 L223.25,462.13 L224.51,461.47 L225.78,460.82 L227.04,460.16 L228.30,459.49 L229.56,458.83 L230.82,458.17 L232.08,457.50 L233.34,456.84 L234.60,456.17 L235.86,455.50 L237.12,454.83 L238.39,454.16 L239.65,453.49 L240.91,452.81 L242.17,452.14 L243.43,451.46 L244.69,450.78 L245.95,450.10 L247.21,449.42 L248.47,448.74 L249.73,448.06 L251.00,447.37 L252.26,446.69 L253.52,446.00 L254.78,445.31 L256.04,444.62 L257.30,443.93 L258.56,443.24 L259.82,442.55 L261.08,441.85 L262.34,441.15 L263.61,440.46 L264.87,439.76 L266.13,439.06 L267.39,438.36 L268.65,437.65 L269.91,436.95 L271.17,436.24 L272.43,435.54 L273.69,434.83 L274.96,434.12 L276.22,433.41 L277.48,432.69 L278.74,431.98 L280.00,431.26 L281.26,430.55 L282.52,429.83 L283.78,429.11 L285.04,428.39 L286.30,427.67 L287.57,426.94 L288.83,426.22 L290.09,425.49 L291.35,424.76 L292.61,424.03 L293.87,423.30 L295.13,422.57 L296.39,421.84 L297.65,421.10 L298.91,420.37 L300.18,419.63 L301.44,418.89 L302.70,418.15 L303.96,417.41 L305.22,416.66 L306.48,415.92 L307.74,415.17 L309.00,414.43 L310.26,413.68 L311.52,412.93 L312.79,412.17 L314.05,411.42 L315.31,410.67 L316.57,409.91 L317.83,409.15 L319.09,408.39 L320.35,407.63 L321.61,406.87 L322.87,406.11 L324.13,405.34 L325.40,404.57 L326.66,403.81 L327.92,403.04 L329.18,402.27 L330.44,401.49 L331.70,400.72 L332.96,399.94 L334.22,399.17 L335.48,398.39 L336.74,397.61 L338.01,396.83 L339.27,396.04 L340.53,395.26 L341.79,394.47 L343.05,393.69 L344.31,392.90 L345.57,392.11 L346.83,391.31 L348.09,390.52 L349.35,389.73 L350.62,388.93 L351.88,388.13 L353.14,387.33 L354.40,386.53 L355.66,385.73 L356.92,384.92 L358.18,384.12 L359.44,383.31 L360.70,382.50 L361.97,381.69 L363.23,380.88 L364.49,380.06 L365.75,379.25 L367.01,378.43 L368.27,377.61 L369.53,376.79 L370.79,375.97 L372.05,375.15 L373.31,374.33 L374.58,373.50 L375.84,372.67 L377.10,371.84 L378.36,371.01 L379.62,370.18 L380.88,369.34 L382.14,368.51 L383.40,367.67 L384.66,366.83 L385.92,365.99 L387.19,365.15 L388.45,364.30 L389.71,363.46 L390.97,362.61 L392.23,361.76 L393.49,360.91 L394.75,360.06 L396.01,359.21 L397.27,358.35 L398.53,357.49 L399.80,356.64 L401.06,355.78 L402.32,354.91 L403.58,354.05 L404.84,353.18 L406.10,352.32 L407.36,351.45 L408.62,350.58 L409.88,349.71 L411.14,348.83 L412.41,347.96 L413.67,347.08 L414.93,346.20 L416.19,345.32 L417.45,344.44 L418.71,343.56 L419.97,342.67 L421.23,341.78 L422.49,340.90 L423.75,340.00 L425.02,339.11 L426.28,338.22 L427.54,337.32 L428.80,336.43 L430.06,335.53 L431.32,334.62 L432.58,333.72 L433.84,332.82 L435.10,331.91 L436.37,331.00 L437.63,330.09 L438.89,329.18 L440.15,328.27 L441.41,327.36 L442.67,326.44 L443.93,325.52 L445.19,324.60 L446.45,323.68 L447.71,322.75 L448.98,321.83 L450.24,320.90 L451.50,319.97 L452.76,319.04 L454.02,318.11 L455.28,317.17 L456.54,316.24 L457.80,315.30 L459.06,314.36 L460.32,313.42 L461.59,312.48 L462.85,311.53 L464.11,310.58 L465.37,309.63 L466.63,308.68 L467.89,307.73 L469.15,306.78 L470.41,305.82 L471.67,304.86 L472.93,303.90 L474.20,302.94 L475.46,301.98 L476.72,301.01 L477.98,300.04 L479.24,299.08 L480.50,298.10 L481.76,297.13 L483.02,296.16 L484.28,295.18 L485.54,294.20 L486.81,293.22 L488.07,292.24 L489.33,291.25 L490.59,290.27 L491.85,289.28 L493.11,288.29 L494.37,287.30 L495.63,286.31 L496.89,285.31 L498.15,284.31 L499.42,283.31 L500.68,282.31 L501.94,281.31 L503.20,280.30 L504.46,279.30 L505.72,278.29 L506.98,277.28 L508.24,276.26 L509.50,275.25 L510.76,274.23 L512.03,273.21 L513.29,272.19 L514.55,271.17 L515.81,270.14 L517.07,269.12 L518.33,268.09 L519.59,267.06 L520.85,266.03 L522.11,264.99 L523.38,263.95 L524.64,262.92 L525.90,261.87 L527.16,260.83 L528.42,259.79 L529.68,258.74 L530.94,257.69 L532.20,256.64 L533.46,255.59 L534.72,254.53 L535.99,253.48 L537.25,252.42 L538.51,251.36 L539.77,250.30 L541.03,249.23 L542.29,248.16 L543.55,247.09 L544.81,246.02 L546.07,244.95 L547.33,243.88 L548.60,242.80 L549.86,241.72 L551.12,240.64 L552.38,239.55 L553.64,238.47 L554.90,237.38 L556.16,236.29 L557.42,235.20 L558.68,234.11 L559.94,233.01 L561.21,231.91 L562.47,230.81 L563.73,229.71 L564.99,228.60 L566.25,227.50 L567.51,226.39 L568.77,225.28 L570.03,224.17 L571.29,223.05 L572.55,221.93 L573.82,220.83 L575.08,219.73 L576.34,218.65 L577.60,217.57 L578.86,216.51 L580.12,215.46 L581.38,214.42 L582.64,213.40 L583.90,212.38 L585.16,211.38 L586.43,210.39 L587.69,209.42 L588.95,208.45 L590.21,207.50 L591.47,206.56 L592.73,205.64 L593.99,204.73 L595.25,203.83 L596.51,202.95 L597.77,202.08 L599.04,201.22 L600.30,200.38 L601.56,199.55 L602.82,198.74 L604.08,197.94 L605.34,197.16 L606.60,196.39 L607.86,195.64 L609.12,194.90 L610.39,194.18 L611.65,193.47 L612.91,192.78 L614.17,192.11 L615.43,191.45 L616.69,190.80 L617.95,190.18 L619.21,189.57 L620.47,188.97 L621.73,188.39 L623.00,187.83 L624.26,187.29 L625.52,186.76 L626.78,186.25 L628.04,185.75 L629.30,185.28 L630.56,184.82 L631.82,184.37 L633.08,183.95 L634.34,183.54 L635.61,183.15 L636.87,182.78 L638.13,182.42 L639.39,182.09 L640.65,181.77 L641.91,181.47 L643.17,181.18 L644.43,180.92 L645.69,180.67 L646.95,180.44 L648.22,180.23 L649.48,180.04 L650.74,179.87 L652.00,179.71 L653.26,179.57 L654.52,179.45 L655.78,179.35 L657.04,179.27 L658.30,179.21 L659.56,179.16 L660.83,179.13 L662.09,179.13 L663.35,179.14 L664.61,179.16 L665.87,179.21 L667.13,179.28 L668.39,179.36 L669.65,179.46 L670.91,179.58 L672.17,179.72 L673.44,179.88 L674.70,180.05 L675.96,180.25 L677.22,180.46 L678.48,180.69 L679.74,180.94 L681.00,181.20 L682.26,181.49 L683.52,181.79 L684.78,182.11 L686.05,182.45 L687.31,182.81 L688.57,183.18 L689.83,183.57 L691.09,183.98 L692.35,184.41 L693.61,184.85 L694.87,185.31 L696.13,185.79 L697.40,186.28 L698.66,186.80 L699.92,187.33 L701.18,187.87 L702.44,188.43 L703.70,189.01 L704.96,189.61 L706.22,190.22 L707.48,190.85 L708.74,191.50 L710.01,192.16 L711.27,192.83 L712.53,193.52 L713.79,194.23 L715.05,194.96 L716.31,195.70 L717.57,196.45 L718.83,197.22 L720.09,198.00 L721.35,198.80 L722.62,199.61 L723.88,200.44 L725.14,201.28 L726.40,202.14 L727.66,203.01 L728.92,203.90 L730.18,204.79 L731.44,205.71 L732.70,206.63 L733.96,207.57 L735.23,208.52 L736.49,209.49 L737.75,210.46 L739.01,211.45 L740.27,212.46 L741.53,213.47 L742.79,214.50 L744.05,215.54 L745.31,216.59 L746.57,217.65 L747.84,218.73 L749.10,219.81 L750.36,220.91 L751.62,222.01 L752.88,223.13 L754.14,224.26 L755.40,225.40 L756.66,226.55 L757.92,227.71 L759.18,228.88 L760.45,230.06 L761.71,231.25 L762.97,232.45 L764.23,233.66 L765.49,234.87 L766.75,236.10 L768.01,237.33 L769.27,238.58 L770.53,239.83 L771.80,241.09 L773.06,242.36 L774.32,243.63 L775.58,244.92 L776.84,246.21 L778.10,247.51 L779.36,248.81 L780.62,250.13 L781.88,251.45 L783.14,252.77 L784.41,254.11 L785.67,255.45 L786.93,256.80 L788.19,258.15 L789.45,259.51 L790.71,260.87 L791.97,262.24 L793.23,263.62 L794.49,265.00 L795.75,266.39 L797.02,267.78 L798.28,269.17 L799.54,270.58 L800.80,271.98 L802.06,273.39 L803.32,274.81 L804.58,276.23 L805.84,277.65 L807.10,279.08 L808.36,280.51 L809.63,281.94 L810.89,283.38 L812.15,284.82 L813.41,286.27 L814.67,287.72 L815.93,289.17 L817.19,290.62 L818.45,292.08 L819.71,293.54 L820.97,295.00 L822.24,296.47 L823.50,297.93 L824.76,299.40 L826.02,300.87 L827.28,302.35 L828.54,303.82 L829.80,305.30 L831.06,306.78 L832.32,308.26 L833.58,309.74 L834.85,311.22 L836.11,312.70 L837.37,314.19 L838.63,315.67 L839.89,317.16 L841.15,318.65 L842.41,320.14 L843.67,321.62 L844.93,323.11 L846.19,324.60 L847.46,326.09 L848.72,327.58 L849.98,329.07 L851.24,330.56 L852.50,332.05" fill="none" stroke="#ff0000" stroke-width="2" stroke-dasharray="12.5 4.2 2.5 4.15" stroke-dashoffset="16.9"/>
<line x1="623.2" y1="110.7" x2="852.5" y2="332.05" stroke="#000" stroke-width="1.9"/>
<line x1="754" y1="167" x2="852.5" y2="332.05" stroke="#000" stroke-width="1.9"/>
<g font-family="'Liberation Serif', serif" fill="#000">
<text id="y15" x="36.45" y="107.2" font-size="31" textLength="45.74" lengthAdjust="spacingAndGlyphs" stroke="#fff" stroke-width="0.4">1.5</text>
<text id="y1" x="65.39" y="342.5" font-size="31" textLength="13.81" lengthAdjust="spacingAndGlyphs" stroke="#fff" stroke-width="0.4">1</text>
<text id="y05" x="36.48" y="578.2" font-size="31" textLength="44.64" lengthAdjust="spacingAndGlyphs" stroke="#fff" stroke-width="0.4">0.5</text>
<text id="y0" x="63.18" y="814.4" font-size="31" textLength="18.09" lengthAdjust="spacingAndGlyphs" stroke="#fff" stroke-width="0.4">0</text>
<text id="xm2" x="176.08" y="840.5" font-size="31" textLength="43.40" lengthAdjust="spacingAndGlyphs" stroke="#fff" stroke-width="0.4">−2</text>
<text id="xm15" x="327.43" y="840.5" font-size="31" textLength="67.71" lengthAdjust="spacingAndGlyphs" stroke="#fff" stroke-width="0.4">−1.5</text>
<text id="xm1" x="504.05" y="840.5" font-size="31" textLength="40.83" lengthAdjust="spacingAndGlyphs" stroke="#fff" stroke-width="0.4">−1</text>
<text id="xm05" x="654.66" y="840.5" font-size="31" textLength="69.49" lengthAdjust="spacingAndGlyphs" stroke="#fff" stroke-width="0.4">−0.5</text>
<text id="x0" x="843.23" y="840.5" font-size="31" textLength="19.25" lengthAdjust="spacingAndGlyphs" stroke="#fff" stroke-width="0.4">0</text>
<text id="xl1" x="313.41" y="882" font-size="37" textLength="99.28" lengthAdjust="spacingAndGlyphs" stroke="#fff" stroke-width="0.4">Scale</text>
<text id="xl2" x="427.52" y="882" font-size="37" textLength="113.33" lengthAdjust="spacingAndGlyphs" stroke="#fff" stroke-width="0.4">factor</text>
<text id="xl3" x="560.85" y="882" font-size="37" textLength="33.24" lengthAdjust="spacingAndGlyphs" stroke="#fff" stroke-width="0.4">ln</text>
<text id="xl4" x="613.48" y="882" font-size="37" textLength="20.45" lengthAdjust="spacingAndGlyphs" stroke="#fff" stroke-width="0.4">a</text>
<text id="yl1" x="-720.85" y="32.8" font-size="37" textLength="188.48" lengthAdjust="spacingAndGlyphs" stroke="#fff" stroke-width="0.4" transform="rotate(-90)">Conformal</text>
<text id="yl2" x="-510.01" y="32.8" font-size="37" textLength="138.03" lengthAdjust="spacingAndGlyphs" stroke="#fff" stroke-width="0.4" transform="rotate(-90)">horizon</text>
<text id="yl3" x="-352.10" y="32.8" font-size="37" textLength="92.19" lengthAdjust="spacingAndGlyphs" stroke="#fff" stroke-width="0.4" transform="rotate(-90)">scale</text>
<text id="yl4" x="-240.55" y="32.8" font-size="37" textLength="77.89" lengthAdjust="spacingAndGlyphs" stroke="#fff" stroke-width="0.4" transform="rotate(-90)">(aH)</text>
<text id="yl5" x="-161.77" y="22.2" font-size="23" textLength="14.28" lengthAdjust="spacingAndGlyphs"  transform="rotate(-90)">−</text>
<text id="yl6" x="-142.22" y="22.2" font-size="23" textLength="6.32" lengthAdjust="spacingAndGlyphs"  transform="rotate(-90)">1</text>
<text id="sl1" x="621.92" y="103" font-size="30" textLength="83.12" lengthAdjust="spacingAndGlyphs" stroke="#000" stroke-width="0.7">Slope</text>
<text id="sl2" x="719.94" y="103" font-size="30" textLength="17.68" lengthAdjust="spacingAndGlyphs" stroke="#000" stroke-width="0.7">q</text>
<text id="vm1" x="590.76" y="177.5" font-size="30.5" textLength="16.44" lengthAdjust="spacingAndGlyphs" fill="#ff0000" stroke="#ff0000" stroke-width="0.4">V</text>
<text id="vm2" x="609.20" y="177.5" font-size="30.5" textLength="20.24" lengthAdjust="spacingAndGlyphs" fill="#ff0000" stroke="#ff0000" stroke-width="0.4">M</text>
<text id="bw1" x="558.74" y="354.4" font-size="30.5" textLength="18.13" lengthAdjust="spacingAndGlyphs" fill="#0000ff" stroke="#0000ff" stroke-width="0.4">B</text>
<text id="bw2" x="578.00" y="354.4" font-size="30.5" textLength="20.00" lengthAdjust="spacingAndGlyphs" fill="#0000ff" stroke="#0000ff" stroke-width="0.4">W</text>
<text id="lam" x="656.58" y="278.8" font-size="30" textLength="16.27" lengthAdjust="spacingAndGlyphs" fill="#ff00ff" stroke="#ff00ff" stroke-width="0.5">Λ</text>
<text id="cd1" x="656.79" y="461.1" font-size="32" textLength="157.61" lengthAdjust="spacingAndGlyphs" fill="#0000ff" stroke="#0000ff" stroke-width="0.7">Conformal</text>
<text id="cd2" x="656.79" y="507.1" font-size="32" textLength="129.82" lengthAdjust="spacingAndGlyphs" fill="#0000ff" stroke="#0000ff" stroke-width="0.7">Distance</text>
</g>
</svg>
</body></html>
